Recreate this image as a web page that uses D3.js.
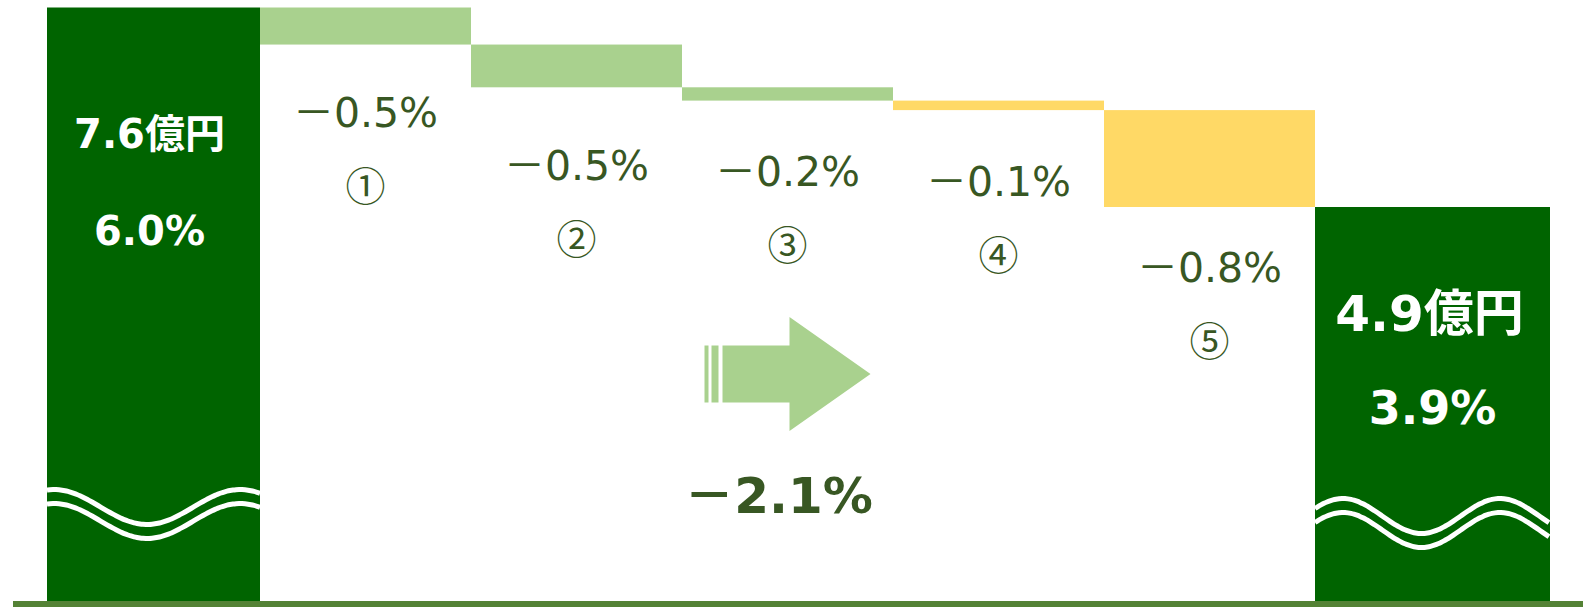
<!DOCTYPE html>
<html>
<head>
<meta charset="utf-8">
<script src="https://cdn.jsdelivr.net/npm/d3@7"></script>
<style>
  html, body { margin: 0; padding: 0; background: #fff; }
  svg { display: block; }
  .total-text { font-family: "DejaVu Sans", "Noto Sans CJK JP", sans-serif; font-weight: bold; fill: #fff; }
  .step-label { font-family: "DejaVu Sans", "Noto Sans CJK JP", sans-serif; fill: #385723; }
  .step-mark { font-family: "Noto Sans CJK JP", sans-serif; fill: #385723; }
  .change-text { font-family: "DejaVu Sans", "Noto Sans CJK JP", sans-serif; font-weight: bold; fill: #385723; }
</style>
</head>
<body>
<svg id="chart" width="1583" height="607"></svg>
<script>
// columns of the waterfall
const categories = ['start', 's1', 's2', 's3', 's4', 's5', 'end'];

// totals (% shown on the bars) and amounts
const totalRates = [6.0, 3.9];
const totalAmounts = ['7.6億円', '4.9億円'];

// step drops as drawn and their printed labels
const stepValues = [-0.39, -0.45, -0.14, -0.10, -1.02];
const stepLabels = ['－0.5%', '－0.5%', '－0.2%', '－0.1%', '－0.8%'];
const stepMarks = ['①', '②', '③', '④', '⑤'];
const stepKinds = ['a', 'a', 'a', 'b', 'b'];

const totalChange = '－2.1%';

// layout
const W = 1583, H = 607;
const plot = {left: 47, right: 1550, top: 7.5, base: 601};
const labelNudge = [-2, 9, 1, 2, -9];

const svg = d3.select('#chart');

const x = d3.scaleBand()
  .domain(categories)
  .range([49, 49 + 211 * categories.length])
  .paddingInner(0)
  .paddingOuter(0);

const y = d3.scaleLinear()
  .domain([totalRates[1], totalRates[0]])
  .range([207, plot.top]);

const kindColor = d3.scaleOrdinal()
  .domain(['a', 'b'])
  .range(['#a9d18e', '#ffd966']);

// running sum for the steps
let run = totalRates[0];
const steps = stepValues.map((v, i) => {
  const s = {cat: categories[i + 1], from: run, to: run + v, i: i};
  run += v;
  return s;
});

// total bars
const totals = [
  {cat: 'start', v: totalRates[0], x0: plot.left, x1: x('s1'), amount: totalAmounts[0],
    sizeA: 40, sizeB: 40, amountY: 147.5, rateY: 245, dx: -4, waveY: 507, period: 186, phase: 240},
  {cat: 'end', v: totalRates[1], x0: x('end'), x1: plot.right, amount: totalAmounts[1],
    sizeA: 50, sizeB: 46, amountY: 331, rateY: 424, dx: -3, waveY: 516, period: 157, phase: 1500}
];

svg.selectAll('rect.total')
  .data(totals)
  .join('rect')
  .attr('class', 'total')
  .attr('x', d => d.x0)
  .attr('y', d => y(d.v))
  .attr('width', d => d.x1 - d.x0)
  .attr('height', d => plot.base - y(d.v))
  .attr('fill', '#006400');

// wavy break lines on the totals
const line = d3.line().curve(d3.curveBasis);
totals.forEach(d => {
  [0, 14].forEach(off => {
    const pts = d3.range(d.x0, d.x1 + 1, 3).map(px =>
      [px, d.waveY + off - 17.5 * Math.cos(2 * Math.PI * (px - d.phase) / d.period)]);
    svg.append('path')
      .attr('d', line(pts))
      .attr('fill', 'none')
      .attr('stroke', '#fff')
      .attr('stroke-width', 5);
  });
});

svg.selectAll('text.amount')
  .data(totals)
  .join('text')
  .attr('class', 'total-text amount')
  .attr('x', d => (d.x0 + d.x1) / 2 + d.dx)
  .attr('y', d => d.amountY)
  .attr('text-anchor', 'middle')
  .attr('font-size', d => d.sizeA)
  .text(d => d.amount);

svg.selectAll('text.rate')
  .data(totals)
  .join('text')
  .attr('class', 'total-text rate')
  .attr('x', d => (d.x0 + d.x1) / 2 + (d.cat === 'end' ? 0 : d.dx))
  .attr('y', d => d.rateY)
  .attr('text-anchor', 'middle')
  .attr('font-size', d => d.sizeB)
  .text(d => d.v.toFixed(1) + '%');

// step bars
svg.selectAll('rect.step')
  .data(steps)
  .join('rect')
  .attr('class', 'step')
  .attr('x', d => x(d.cat))
  .attr('y', d => y(d.from))
  .attr('width', x.bandwidth())
  .attr('height', d => y(d.to) - y(d.from))
  .attr('fill', (d, i) => kindColor(stepKinds[i]));

svg.selectAll('text.step-label')
  .data(steps)
  .join('text')
  .attr('class', 'step-label')
  .attr('x', d => x(d.cat) + x.bandwidth() / 2)
  .attr('y', d => y(d.to) + 84 + labelNudge[d.i])
  .attr('text-anchor', 'middle')
  .attr('font-size', 41)
  .text(d => stepLabels[d.i]);

svg.selectAll('text.step-mark')
  .data(steps)
  .join('text')
  .attr('class', 'step-mark')
  .attr('x', d => x(d.cat) + x.bandwidth() / 2)
  .attr('y', d => y(d.to) + 84 + labelNudge[d.i] + 57)
  .attr('dominant-baseline', 'central')
  .attr('text-anchor', 'middle')
  .attr('font-size', 40)
  .text(d => stepMarks[d.i]);

// arrow with stripes
const ax = x('s3') + x.bandwidth() / 2 - 83, ay = 374;
const arrow = svg.append('g').attr('fill', '#a9d18e');
arrow.append('rect').attr('x', ax).attr('y', ay - 28.5).attr('width', 4).attr('height', 57);
arrow.append('rect').attr('x', ax + 7).attr('y', ay - 28.5).attr('width', 7).attr('height', 57);
arrow.append('path').attr('d', d3.path ? (() => {
  const p = d3.path();
  p.moveTo(ax + 18, ay - 28.5);
  p.lineTo(ax + 85, ay - 28.5);
  p.lineTo(ax + 85, ay - 57);
  p.lineTo(ax + 166, ay);
  p.lineTo(ax + 85, ay + 57);
  p.lineTo(ax + 85, ay + 28.5);
  p.lineTo(ax + 18, ay + 28.5);
  p.closePath();
  return p.toString();
})() : '');

svg.append('text')
  .attr('class', 'change-text')
  .attr('x', x('s3') + x.bandwidth() / 2 - 9)
  .attr('y', 513)
  .attr('text-anchor', 'middle')
  .attr('font-size', 50)
  .text(totalChange);

// base line
svg.append('line')
  .attr('x1', 13).attr('x2', W)
  .attr('y1', plot.base + 3).attr('y2', plot.base + 3)
  .attr('stroke', '#548235')
  .attr('stroke-width', 6);
</script>
</body>
</html>
